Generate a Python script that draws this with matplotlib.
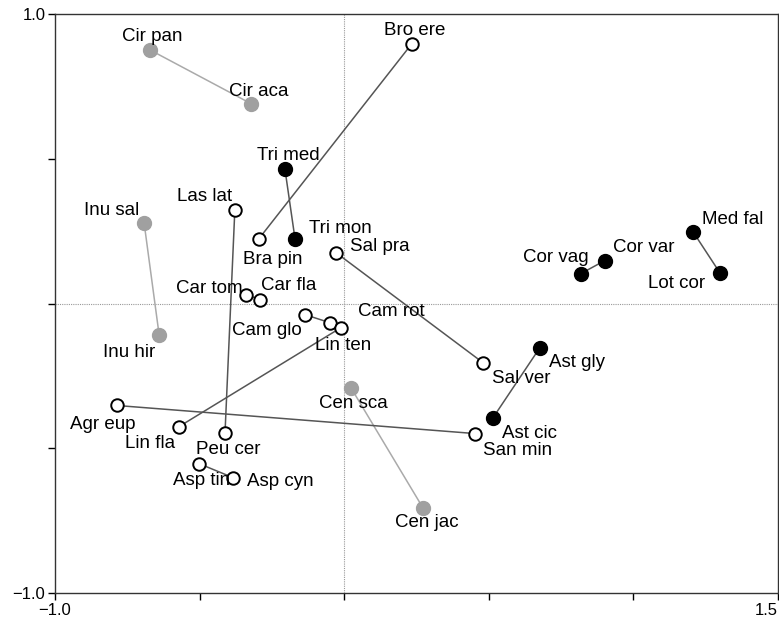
import matplotlib
matplotlib.use("Agg")
import matplotlib.pyplot as plt

plt.rcParams['font.family'] = ['Liberation Sans', 'DejaVu Sans']

# species scores (axis 1, axis 2)
names = ["Cir pan", "Cir aca", "Inu sal", "Inu hir", "Cen sca", "Cen jac",
         "Tri med", "Tri mon", "Med fal", "Lot cor", "Cor vag", "Cor var",
         "Ast gly", "Ast cic",
         "Bro ere", "Bra pin", "Las lat", "Peu cer", "Sal pra", "Sal ver",
         "Car tom", "Car fla", "Cam glo", "Cam rot", "Lin ten", "Lin fla",
         "Agr eup", "San min", "Asp tin", "Asp cyn"]
x_vals = [-0.672, -0.322, -0.692, -0.640, 0.023, 0.272,
          -0.205, -0.170, 1.206, 1.299, 0.819, 0.902,
          0.677, 0.515,
          0.234, -0.295, -0.378, -0.412, -0.028, 0.480,
          -0.340, -0.291, -0.136, -0.049, -0.011, -0.571,
          -0.786, 0.452, -0.502, -0.385]
y_vals = [0.877, 0.691, 0.280, -0.107, -0.290, -0.705,
          0.466, 0.224, 0.249, 0.107, 0.104, 0.149,
          -0.152, -0.394,
          0.898, 0.224, 0.325, -0.446, 0.176, -0.204,
          0.031, 0.014, -0.038, -0.066, -0.083, -0.425,
          -0.352, -0.449, -0.553, -0.601]
# group: 'grey' filled, 'black' filled, 'open'
groups = ["grey"] * 6 + ["black"] * 8 + ["open"] * 16
# connected pairs
pairs = [("Cir pan", "Cir aca"), ("Inu sal", "Inu hir"), ("Cen sca", "Cen jac"),
         ("Tri med", "Tri mon"), ("Med fal", "Lot cor"), ("Cor vag", "Cor var"),
         ("Ast gly", "Ast cic"), ("Bro ere", "Bra pin"), ("Las lat", "Peu cer"),
         ("Sal pra", "Sal ver"), ("Car tom", "Car fla"), ("Cam glo", "Cam rot"),
         ("Lin ten", "Lin fla"), ("Agr eup", "San min"), ("Asp tin", "Asp cyn")]

# label offsets (pixels, label centre relative to point)
label_off = {
    "Cir pan": (2, 13), "Cir aca": (8, 12), "Tri med": (3, 13), "Tri mon": (45, 10),
    "Las lat": (-30, 13), "Inu sal": (-32, 12), "Bra pin": (14, -21), "Sal pra": (44, 6),
    "Car tom": (-37, 6), "Car fla": (29, 14), "Bro ere": (3, 13), "Med fal": (40, 12),
    "Cor var": (39, 13), "Cor vag": (-25, 16), "Lot cor": (-43, -11), "Cam rot": (61, 11),
    "Cam glo": (-38, -16), "Lin ten": (2, -18), "Inu hir": (-30, -18), "Cen sca": (3, -16),
    "Agr eup": (-14, -19), "Lin fla": (-29, -17), "Peu cer": (3, -17), "Asp tin": (3, -17),
    "Asp cyn": (47, -4), "Sal ver": (38, -16), "Ast gly": (37, -15), "Ast cic": (36, -16),
    "San min": (43, -17), "Cen jac": (4, -15),
}

idx = {n: i for i, n in enumerate(names)}

fig = plt.figure(figsize=(7.79, 6.19), dpi=100)
ax = fig.add_axes([0.0706, 0.042, 0.928, 0.935])

ax.axhline(0, color="#999999", lw=0.8, ls=(0, (1, 1)), zorder=0)
ax.axvline(0, color="#999999", lw=0.8, ls=(0, (1, 1)), zorder=0)

for a, b in pairs:
    i, j = idx[a], idx[b]
    col = "#aaaaaa" if groups[i] == "grey" else "#555555"
    ax.plot([x_vals[i], x_vals[j]], [y_vals[i], y_vals[j]], color=col, lw=1.1, zorder=1)

for i, n in enumerate(names):
    g = groups[i]
    if g == "grey":
        ax.plot(x_vals[i], y_vals[i], "o", ms=10, color="#a0a0a0", mec="#a0a0a0", zorder=3)
    elif g == "black":
        ax.plot(x_vals[i], y_vals[i], "o", ms=10, color="black", zorder=3)
    else:
        ax.plot(x_vals[i], y_vals[i], "o", ms=9, mfc="white", mec="black", mew=1.4, zorder=3)
    dx, dy = label_off[n]
    ax.annotate(n, (x_vals[i], y_vals[i]), xytext=(dx, dy), textcoords="offset pixels",
                ha="center", va="center", fontsize=13.5, color="black", zorder=4)

ax.set_xlim(-1.0, 1.5)
ax.set_ylim(-1.0, 1.0)
ax.set_xticks([-1.0, -0.5, 0, 0.5, 1.0, 1.5])
ax.set_xticklabels(["\u22121.0", "", "", "", "", "1.5"])
ax.set_yticks([-1.0, -0.5, 0, 0.5, 1.0])
ax.set_yticklabels(["\u22121.0", "", "", "", "1.0"])
ax.tick_params(direction="out", length=5, width=1, labelsize=12, pad=2)
ax.get_xticklabels()[-1].set_ha("right")
for s in ax.spines.values():
    s.set_linewidth(1.0)
    s.set_color("#333333")

fig.savefig("out.png", dpi=100)
